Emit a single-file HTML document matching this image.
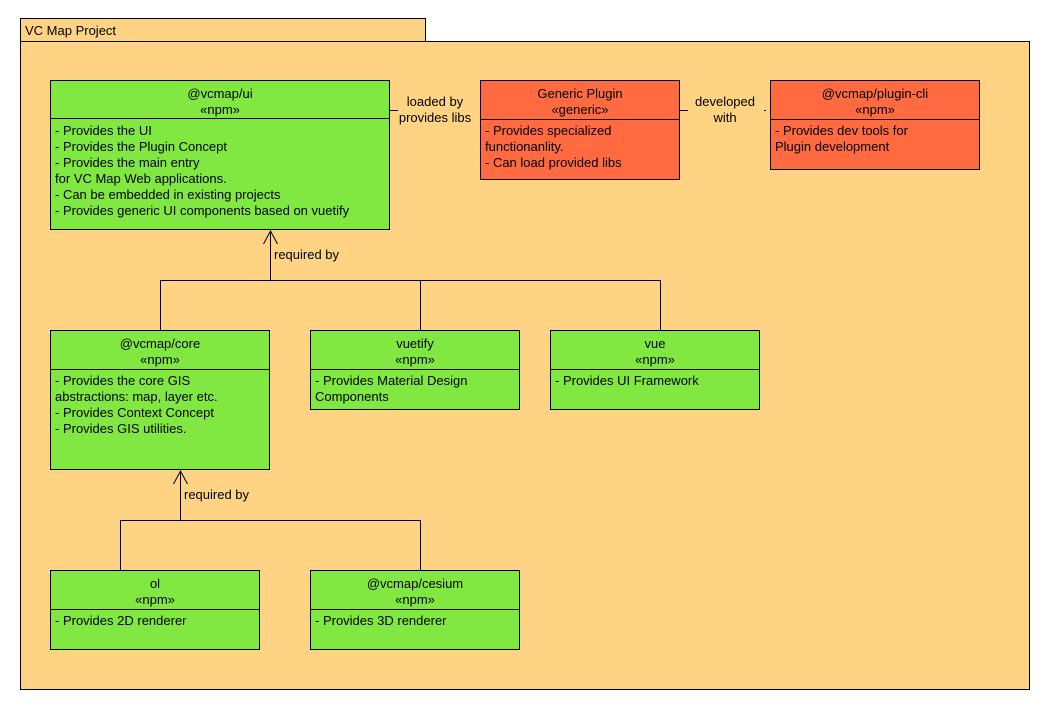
<!DOCTYPE html>
<html><head><meta charset="utf-8"><style>
html,body{margin:0;padding:0;background:#fff;}
svg{display:block;}
text{font-family:"Liberation Sans",Arial,sans-serif;font-size:13px;fill:#000;}
</style></head><body>
<svg width="1050" height="710" viewBox="0 0 1050 710" xmlns="http://www.w3.org/2000/svg">
<g stroke="#000" stroke-width="1" shape-rendering="crispEdges">
<rect x="20.5" y="18.5" width="405" height="23" fill="#FFD384"/>
<rect x="20.5" y="41.5" width="1009" height="648" fill="#FFD384"/>
</g>
<text x="25" y="35">VC Map Project</text>

<!-- connectors -->
<g stroke="#000" fill="none" shape-rendering="crispEdges">
<path d="M270.5 231 V280.5 M160.5 280.5 H660.5 M160.5 280 V330 M420.5 280 V330 M660.5 280 V330"/>
<path d="M180.5 471 V520.5 M120.5 520.5 H420.5 M120.5 520 V570 M420.5 520 V570"/>
<path d="M390 110.5 H480 M680 110.5 H770" stroke-dasharray="8,5"/>
</g>
<path d="M263.5 244 L270.5 231 L277.5 244 M173.5 484 L180.5 471 L187.5 484" stroke="#000" fill="none"/>
<rect x="398" y="96" width="78" height="30" fill="#FFD384"/>
<rect x="688" y="96" width="76" height="30" fill="#FFD384"/>
<text x="435" y="106" text-anchor="middle">loaded by</text>
<text x="435" y="122" text-anchor="middle">provides libs</text>
<text x="725" y="106" text-anchor="middle">developed</text>
<text x="725" y="122" text-anchor="middle">with</text>
<text x="274" y="259">required by</text>
<text x="184" y="499">required by</text>

<g stroke="#000" shape-rendering="crispEdges">
<rect x="50.5" y="80.5" width="339" height="149" fill="#80E840"/><path d="M50 118.5 H390"/>
<rect x="480.5" y="80.5" width="199" height="99" fill="#FF6A40"/><path d="M480 119.5 H680"/>
<rect x="770.5" y="80.5" width="209" height="89" fill="#FF6A40"/><path d="M770 119.5 H980"/>
<rect x="50.5" y="330.5" width="219" height="139" fill="#80E840"/><path d="M50 369.5 H270"/>
<rect x="310.5" y="330.5" width="209" height="79" fill="#80E840"/><path d="M310 369.5 H520"/>
<rect x="550.5" y="330.5" width="209" height="79" fill="#80E840"/><path d="M550 369.5 H760"/>
<rect x="50.5" y="570.5" width="209" height="79" fill="#80E840"/><path d="M50 609.5 H260"/>
<rect x="310.5" y="570.5" width="209" height="79" fill="#80E840"/><path d="M310 609.5 H520"/>
</g>

<g text-anchor="middle">
<text x="220" y="98">@vcmap/ui</text><text x="220" y="114">«npm»</text>
<text x="580" y="98">Generic Plugin</text><text x="580" y="114">«generic»</text>
<text x="875" y="98">@vcmap/plugin-cli</text><text x="875" y="114">«npm»</text>
<text x="160" y="348">@vcmap/core</text><text x="160" y="364">«npm»</text>
<text x="415" y="348">vuetify</text><text x="415" y="364">«npm»</text>
<text x="655" y="348">vue</text><text x="655" y="364">«npm»</text>
<text x="155" y="588">ol</text><text x="155" y="604">«npm»</text>
<text x="415" y="588">@vcmap/cesium</text><text x="415" y="604">«npm»</text>
</g>

<text x="55" y="135">- Provides the UI</text>
<text x="55" y="151">- Provides the Plugin Concept</text>
<text x="55" y="167">- Provides the main entry</text>
<text x="55" y="183">for VC Map Web applications.</text>
<text x="55" y="199">- Can be embedded in existing projects</text>
<text x="55" y="215">- Provides generic UI components based on vuetify</text>

<text x="485" y="135">- Provides specialized</text>
<text x="485" y="151">functionanlity.</text>
<text x="485" y="167">- Can load provided libs</text>

<text x="775" y="135">- Provides dev tools for</text>
<text x="775" y="151">Plugin development</text>

<text x="55" y="385">- Provides the core GIS</text>
<text x="55" y="401">abstractions: map, layer etc.</text>
<text x="55" y="417">- Provides Context Concept</text>
<text x="55" y="433">- Provides GIS utilities.</text>

<text x="315" y="385">- Provides Material Design</text>
<text x="315" y="401">Components</text>

<text x="555" y="385">- Provides UI Framework</text>

<text x="55" y="625">- Provides 2D renderer</text>
<text x="315" y="625">- Provides 3D renderer</text>
</svg>
</body></html>
